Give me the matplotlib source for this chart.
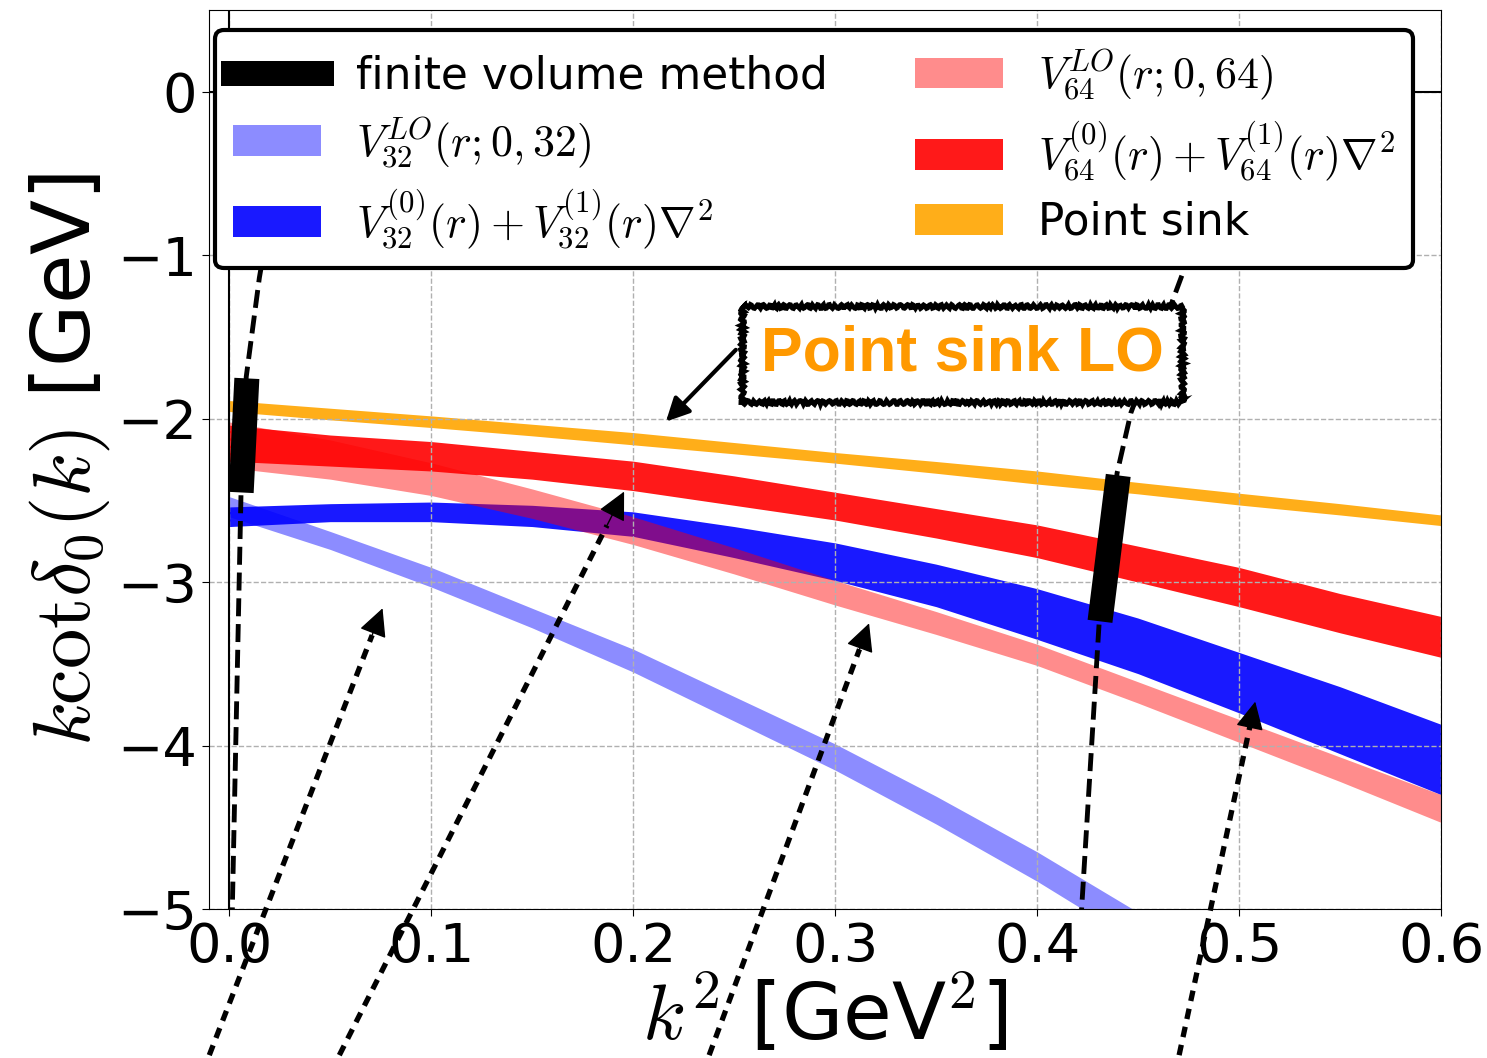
import numpy as np
import matplotlib
matplotlib.use('Agg')
import matplotlib.pyplot as plt

plt.rcParams['mathtext.fontset'] = 'cm'
plt.rcParams['font.family'] = ['DejaVu Sans']

# k^2 grid [GeV^2] for the bands
k2 = [0.0, 0.05, 0.1, 0.15, 0.2, 0.25, 0.3, 0.35, 0.4, 0.45, 0.5, 0.55, 0.6]

# point sink (LO)
ps_hi = [-1.889, -1.936, -1.983, -2.034, -2.085, -2.146, -2.207, -2.262, -2.32, -2.39, -2.456, -2.52, -2.589]
ps_lo = [-1.956, -2.007, -2.054, -2.105, -2.16, -2.215, -2.272, -2.334, -2.40, -2.46, -2.528, -2.589, -2.654]

# V64 LO
v64lo_hi = [-2.02, -2.13, -2.27, -2.43, -2.60, -2.79, -2.99, -3.18, -3.38, -3.61, -3.84, -4.07, -4.30]
v64lo_lo = [-2.30, -2.37, -2.47, -2.61, -2.77, -2.95, -3.14, -3.32, -3.51, -3.74, -3.98, -4.22, -4.47]

# V64 NLO
v64nlo_hi = [-2.04, -2.10, -2.14, -2.20, -2.26, -2.35, -2.45, -2.55, -2.65, -2.78, -2.91, -3.07, -3.21]
v64nlo_lo = [-2.26, -2.29, -2.32, -2.37, -2.44, -2.53, -2.62, -2.73, -2.85, -3.00, -3.15, -3.31, -3.46]

# V32 NLO
v32nlo_hi = [-2.54, -2.52, -2.51, -2.53, -2.57, -2.66, -2.76, -2.89, -3.04, -3.22, -3.43, -3.64, -3.87]
v32nlo_lo = [-2.66, -2.63, -2.63, -2.66, -2.72, -2.85, -2.99, -3.15, -3.35, -3.56, -3.80, -4.05, -4.30]

# V32 LO (leaves the frame near k^2 = 0.44)
k2_32lo = [0.0, 0.05, 0.1, 0.15, 0.2, 0.25, 0.3, 0.35, 0.4, 0.45]
v32lo_hi = [-2.477, -2.69, -2.91, -3.16, -3.41, -3.70, -3.99, -4.31, -4.65, -5.02]
v32lo_lo = [-2.60, -2.80, -3.03, -3.28, -3.55, -3.85, -4.15, -4.48, -4.83, -5.21]

# finite volume results: segments along the Luscher curves
fv1_k2 = [0.0084, 0.0062]
fv1_y = [-1.83, -2.375]
fv2_k2 = [0.4394, 0.4319]
fv2_y = [-2.423, -3.164]

# Luscher curves (dashed)
lu1_k2 = [0.0014, 0.0016, 0.0058, 0.0084, 0.0149, 0.021]
lu1_y = [-5.1, -4.945, -2.466, -1.744, -1.138, -0.7]
lu2_k2 = [0.4215, 0.4223, 0.4307, 0.4396, 0.4464, 0.4718, 0.478]
lu2_y = [-5.1, -4.945, -3.25, -2.332, -1.965, -1.12, -0.95]

# dotted arrows: tail (below the frame) -> head
arr_tail = [(-0.0099, -5.894), (0.0545, -5.894), (0.2376, -5.894), (0.4703, -5.894)]
arr_head = [(0.0759, -3.16), (0.1955, -2.446), (0.3168, -3.252), (0.508, -3.731)]

fig = plt.figure(figsize=(14.87, 10.58), dpi=100)
ax = fig.add_axes([0.1406, 0.1408, 0.8285, 0.8497])

h_v32lo = ax.fill_between(k2_32lo, v32lo_lo, v32lo_hi, color='blue', alpha=0.45, lw=0)
h_v32nlo = ax.fill_between(k2, v32nlo_lo, v32nlo_hi, color='blue', alpha=0.9, lw=0)
h_v64lo = ax.fill_between(k2, v64lo_lo, v64lo_hi, color='red', alpha=0.45, lw=0)
h_v64nlo = ax.fill_between(k2, v64nlo_lo, v64nlo_hi, color='red', alpha=0.9, lw=0)
h_ps = ax.fill_between(k2, ps_lo, ps_hi, color='orange', alpha=0.9, lw=0)

ax.plot(lu1_k2, lu1_y, 'k--', lw=3.5, zorder=3)
ax.plot(lu2_k2, lu2_y, 'k--', lw=3.5, zorder=3)
h_fv, = ax.plot(fv1_k2, fv1_y, color='k', lw=18, zorder=4)
ax.plot(fv2_k2, fv2_y, color='k', lw=18, zorder=4)

ax.axvline(0, color='k', lw=1.5, zorder=2)
ax.axhline(0, color='k', lw=1.5, zorder=2)

for tail, head in zip(arr_tail, arr_head):
    tail = np.array(tail)
    head = np.array(head)
    neck = head - 0.06 * (head - tail)
    ax.plot([tail[0], neck[0]], [tail[1], neck[1]], color='k', lw=3.8,
            ls=(0, (2.0, 1.5)), clip_on=False, zorder=6)
    ax.annotate('', xy=head, xytext=neck, annotation_clip=False, zorder=6,
                arrowprops=dict(arrowstyle='-|>', color='k', lw=1, mutation_scale=44,
                                shrinkA=0, shrinkB=0))

ax.annotate('', xy=(0.2162, -2.018), xytext=(0.2508, -1.579), zorder=6,
            arrowprops=dict(arrowstyle='-|>', color='k', lw=3, mutation_scale=35,
                            shrinkA=0, shrinkB=0))

t = ax.text(0.3629, -1.603, 'Point sink LO', fontsize=45, fontweight='bold',
            family='Liberation Sans', color='#ff9900', ha='center', va='center',
            zorder=7, bbox=dict(boxstyle='square,pad=0.3', fc='white', ec='black', lw=3.5))
t.get_bbox_patch().set_sketch_params(2, 6, 2)

handles = [h_fv, h_v32lo, h_v32nlo, h_v64lo, h_v64nlo, h_ps]
labels = ['finite volume method',
          r'$V_{32}^{LO}(r;0,32)$',
          r'$V_{32}^{(0)}(r)+V_{32}^{(1)}(r)\nabla^2$',
          r'$V_{64}^{LO}(r;0,64)$',
          r'$V_{64}^{(0)}(r)+V_{64}^{(1)}(r)\nabla^2$',
          'Point sink']
leg = ax.legend(handles, labels, ncol=2, loc='upper left', bbox_to_anchor=(0.005, 0.978),
                borderaxespad=0, fontsize=31.6, framealpha=1, edgecolor='black', fancybox=True,
                labelspacing=0.4)
leg.get_frame().set_linewidth(3)
leg.set_zorder(8)

ax.set_xlim(-0.01, 0.6)
ax.set_ylim(-5, 0.5)
ax.set_xticks([0.0, 0.1, 0.2, 0.3, 0.4, 0.5, 0.6])
ax.set_yticks([-5, -4, -3, -2, -1, 0])
ax.tick_params(labelsize=39, length=5)
ax.grid(True, ls='--', color='#b0b0b0', lw=1)
ax.set_xlabel(r'$k^2$ [GeV$^2$]', fontsize=57, labelpad=0)
ax.set_ylabel(r'$k\mathrm{cot}\delta_0(k)$ [GeV]', fontsize=58, labelpad=4)

fig.savefig('out.png', dpi=100)
